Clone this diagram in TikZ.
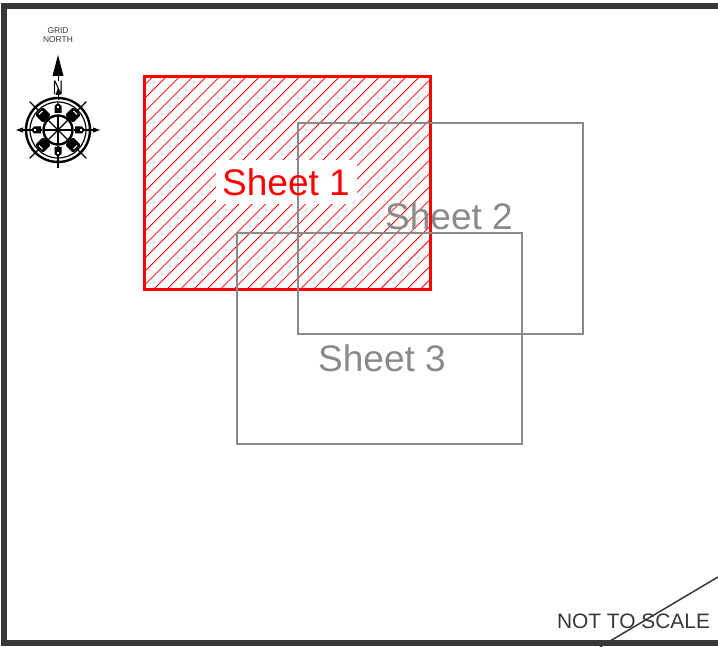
\documentclass[tikz,border=0pt]{standalone}
\usepackage{fontspec}
\setmainfont{Liberation Sans}
\definecolor{framegray}{HTML}{383838}
\definecolor{sheetgray}{HTML}{8A8A8A}
\tikzset{
  sheet/.style = {draw=sheetgray, line width=1.6pt},
  sheetlabel/.style = {text=sheetgray, font=\fontsize{37}{37}\selectfont, inner sep=0pt},
  hatch/.style = {red, line width=0.8pt}
}
\begin{document}
\begin{tikzpicture}[x=1pt, y=-1pt]
\useasboundingbox (0,0) rectangle (718,647);
% frame
\fill[white] (0,0) rectangle (718,647);
\draw[framegray, line width=6pt] (730,6) -- (4,6) -- (4,642.5) -- (730,642.5);
\draw[framegray, line width=1.5pt] (718,577) -- (600,647);
\node[text=framegray, font=\fontsize{20.9}{21}\selectfont, inner sep=0pt] (scale) at (633.5,621) {NOT TO SCALE};
% hatching of sheet 1
\begin{scope}
  \clip (144,77) rectangle (430,290);
  \foreach \k in {-1,...,37}
    \draw[hatch] ({243+13.33*\k},0) -- ({243+13.33*\k-400},400);
\end{scope}
\fill[white] (216,160) rectangle (357,204);
% sheets
\draw[red, line width=3pt] (144,77) rectangle (430,290);
\draw[sheet] (298,123) rectangle (583,334);
\draw[sheet] (237,233) rectangle (522,444);
\node[sheetlabel, text=red] (sheet1) at (286,182) {Sheet 1};
\node[sheetlabel] (sheet2) at (449,216) {Sheet 2};
\node[sheetlabel] (sheet3) at (382,358) {Sheet 3};
% north mark
\node[text=framegray, font=\fontsize{8.4}{9.5}\selectfont, align=center, inner sep=0pt] (grid) at (58,35) {GRID\\NORTH};
\fill (58,55) -- (63.5,76) -- (52.5,76) -- cycle;
\draw[line width=1pt] (58,76) -- (58,81) (58,95) -- (58,100);
\node[font=\fontsize{19.5}{19.5}\selectfont, xscale=0.72, inner sep=0pt] (north) at (58,88) {N};
\begin{scope}[shift={(58,130)}]
  % spokes and tips
  \foreach \a in {45,135,225,315}
    \draw[line width=1.4pt] (\a:16) -- (\a:40);
  \foreach \a in {0,180,90}{
    \draw[line width=1.1pt] (\a:16) -- (\a:38);
    \fill[rotate=\a] (42,0) -- (35,2.6) -- (35,-2.6) -- cycle;
  }
  % rings
  \draw[line width=2.4pt] (0,0) circle (32);
  \draw[line width=1.2pt] (0,0) circle (28);
  % blocks
  \foreach \a in {45,135,225,315}{
    \fill[rotate=\a, rounded corners=2pt] (15.5,-5.5) rectangle (27,5.5);
    \fill[white, rotate=\a] (24,-2.5) rectangle (25,2.5);
  }
  \foreach \a in {0,90,180,270}{
    \fill[rotate=\a] (17,-3.5) -- (24,-3.5) -- (27,0) -- (24,3.5) -- (17,3.5) -- cycle;
    \fill[white, rotate=\a] (22,-1) rectangle (24,1);
  }
  % wheel
  \draw[line width=2.4pt, fill=white] (0,0) circle (14.5);
  \foreach \a in {0,45,90,135}
    \draw[line width=1.2pt] (\a:14) -- (\a+180:14);
\end{scope}
\end{tikzpicture}
\end{document}
